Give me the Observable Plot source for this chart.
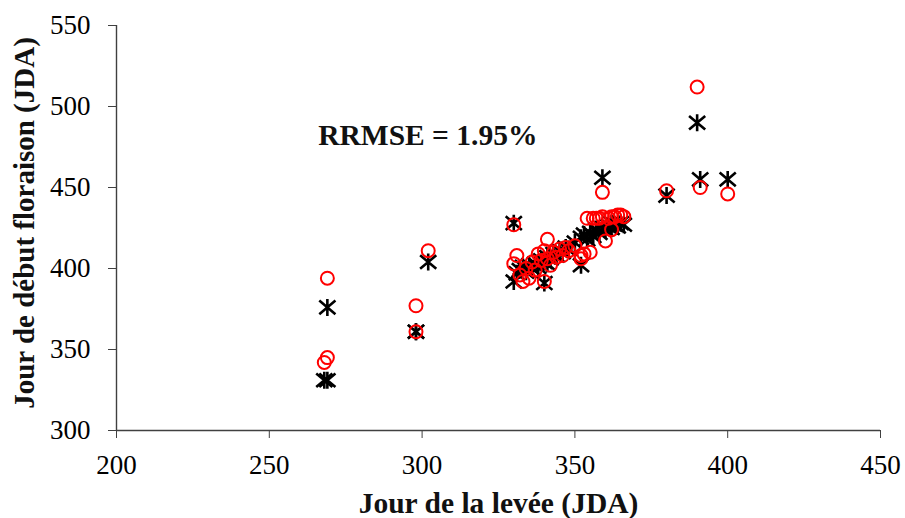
<!DOCTYPE html>
<html>
<head>
<meta charset="utf-8">
<script src="https://cdn.jsdelivr.net/npm/d3@7"></script>
<script src="https://cdn.jsdelivr.net/npm/@observablehq/plot@0.6"></script>
<style>
  html, body { margin: 0; padding: 0; background: #fff; }
  svg text { font-family: 'Liberation Serif', 'Times New Roman', serif; }
  svg g[aria-label="x-axis tick label"], svg g[aria-label="y-axis tick label"] {
    font-family: 'Liberation Serif', 'Times New Roman', serif;
    font-size: 27px;
  }
</style>
</head>
<body>
<script>
// Day of emergence (x), observed flowering day (black stars), simulated flowering day (red circles)
const leveeDay = [268, 269, 269, 298, 298, 302, 330, 380, 390, 391, 400, 359,
  330, 331, 332, 333, 334, 335, 336, 337, 338, 339, 340, 340, 341, 341, 342, 343, 344, 345,
  346, 347, 348, 350, 352, 352, 353, 354, 355, 356, 357, 358, 359, 360, 361, 362, 362, 363,
  364, 365, 366];
const observedDay = [331, 331, 376, 361, 361, 404, 428, 445, 490, 455, 455, 456,
  392, 397, 399, 401, 398, 402, 400, 403, 401, 405, 391, 404, 407, 403, 406, 409, 408, 411,
  410, 413, 412, 416, 402, 419, 421, 418, 422, 420, 424, 422, 425, 424, 426, 425, 428, 427,
  426, 428, 427];
const simulatedDay = [342, 345, 394, 377, 361, 411, 427, 448, 512, 450, 446, 447,
  403, 408, 396, 392, 400, 394, 404, 399, 409, 405, 392, 411, 418, 406, 402, 410, 407, 412,
  408, 413, 411, 414, 406, 408, 409, 431, 410, 431, 431, 431, 432, 417, 431, 424, 432, 432,
  433, 433, 432];

const xTicks = [200, 250, 300, 350, 400, 450];
const yTicks = [300, 350, 400, 450, 500, 550];
const xTitle = "Jour de la levée (JDA)";
const yTitle = "Jour de début floraison (JDA)";
const note = "RRMSE = 1.95%";

const rows = leveeDay.map((x, i) => ({x, obs: observedDay[i], sim: simulatedDay[i]}));

// Excel-like star marker: vertical bar plus an X
const star = {
  draw(ctx, size) {
    const r = Math.sqrt(size / Math.PI);
    ctx.moveTo(0, -r); ctx.lineTo(0, r);
    ctx.moveTo(-r * 0.95, -r * 0.8); ctx.lineTo(r * 0.95, r * 0.8);
    ctx.moveTo(-r * 0.95, r * 0.8); ctx.lineTo(r * 0.95, -r * 0.8);
  }
};

const font = "'Liberation Serif', 'Times New Roman', serif";

const svg = Plot.plot({
  width: 905,
  height: 518,
  marginLeft: 116,
  marginRight: 25,
  marginTop: 25,
  marginBottom: 88,
  style: {fontFamily: font, fontSize: "27px", color: "black", background: "white", overflow: "visible"},
  x: {domain: [200, 450]},
  y: {domain: [300, 550]},
  marks: [
    Plot.axisX({ticks: xTicks, tickSize: 8, tickPadding: 16, label: null, fontSize: 27, fontFamily: font, stroke: "#404040"}),
    Plot.axisY({ticks: yTicks, tickSize: 8, tickPadding: 18, label: null, fontSize: 27, fontFamily: font, stroke: "#404040"}),
    Plot.ruleX([200], {stroke: "#404040", strokeWidth: 1.4}),
    Plot.ruleY([300], {stroke: "#404040", strokeWidth: 1.4}),
    Plot.dot(rows, {x: "x", y: "obs", symbol: star, r: 8.5, stroke: "black", strokeWidth: 2.6}),
    Plot.dot(rows, {x: "x", y: "sim", symbol: "circle", r: 6.5, stroke: "#ff0000", strokeWidth: 2, fill: "none"}),
    Plot.text([note], {x: 266, y: 482, textAnchor: "start", lineAnchor: "middle", fontSize: 29.5, fontWeight: "bold", fontFamily: font, fill: "#111"}),
    Plot.text([xTitle], {frameAnchor: "bottom", textAnchor: "middle", dy: 73, lineAnchor: "middle", fontSize: 29.5, fontWeight: "bold", fontFamily: font, fill: "#111"}),
    Plot.text([yTitle], {frameAnchor: "left", textAnchor: "middle", dx: -92, dy: -5, rotate: -90, lineAnchor: "middle", fontSize: 29, fontWeight: "bold", fontFamily: font, fill: "#111"})
  ]
});
document.body.appendChild(svg);
</script>
</body>
</html>
